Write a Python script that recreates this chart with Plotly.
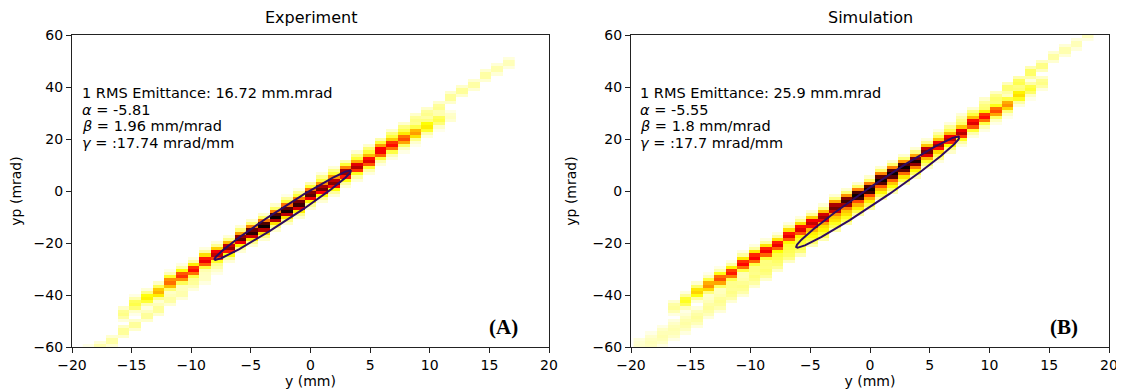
import numpy as np
import plotly.graph_objects as go

# ---------------- data ----------------
# yp (mrad) histogram bins shared by both panels
YP_MIN, YP_MAX, YP_BIN = -60.0, 60.0, 1.2

# Experiment: x bins (mm)
exp_x0, exp_dx, exp_nx = -19.1, 0.978, 37
exp_core_c = [None, None, None, -47.1, -44.3, -41.5, -38.7, -35.9, -33.1, -30.3,
              -27.5, -24.7, -21.9, -19.1, -16.3, -13.5, -10.7, -7.9, -5.1, -2.3,
              0.5, 3.3, 6.1, 8.8, 11.7, 14.5, 17.3, 19.8, 22.5, 24.5,
              26.5, 28.5, None, None, None, None, None]
exp_core_pk = [0, 0, 0, 12, 18, 27, 37, 47, 56, 62,
               66, 72, 80, 88, 95, 100, 100, 98, 93, 88,
               85, 82, 80, 75, 68, 65, 62, 52, 40, 28,
               18, 6, 0, 0, 0, 0, 0]
exp_low_c = [-61.0, -59.0, -56.5, -54.0, -51.0, -47.5, -44.5, -41.5, -38.5, -35.5,
             -32.5, -29.5, None, None, None, None, None, None, None, None,
             None, None, None, None, None, None, None, None, None, None,
             None, None, None, None, None, None, None]
exp_low_pk = [5, 8, 9, 10, 10, 10, 10, 9, 8, 7,
              6, 5, 0, 0, 0, 0, 0, 0, 0, 0,
              0, 0, 0, 0, 0, 0, 0, 0, 0, 0,
              0, 0, 0, 0, 0, 0, 0]
exp_up_c = [None, None, None, None, None, None, None, None, None, None,
            None, None, None, None, None, None, None, -3.6, -0.8, 2.1,
            4.9, 7.8, 10.6, 13.4, 16.3, 19.1, 22.0, 24.8, 27.6, 30.4,
            33.3, 36.1, 39.0, 41.8, 44.6, 47.5, 50.3]
exp_up_pk = [0] * 17 + [5, 6, 7, 7, 8, 8, 9, 10, 10, 10, 10, 10, 10, 10,
                        10, 10, 9, 9, 8, 7, 6]

# Simulation: x bins (mm)
sim_x0, sim_dx, sim_nx = -19.79, 0.962, 40
sim_core_c = [None, None, None, -44.8, -42.1, -39.4, -36.7, -34.0, -31.3, -28.6,
              -25.9, -23.2, -20.6, -17.8, -15.2, -12.5, -9.8, -7.1, -4.4, -1.7,
              1.0, 3.7, 6.4, 9.1, 11.8, 14.5, 17.2, 19.8, 22.5, 25.3,
              27.9, 30.6, 33.3, 36.0, 38.7, 41.4, None, None, None, None]
sim_core_pk = [0, 0, 0, 10, 22, 32, 42, 52, 60, 63,
               64, 65, 66, 67, 68, 72, 78, 85, 92, 100,
               100, 97, 97, 92, 85, 75, 70, 68, 74, 68,
               62, 52, 42, 30, 20, 12, 0, 0, 0, 0]
sim_low_c = [-60.0, -58.0, -56.0, -53.5, -51.0, -48.5, -45.5, -42.5, -39.5, -36.5,
             -33.5, -30.5, -27.0, -24.0, -21.0, -17.5, -14.5, -11.5, -8.5, -5.5,
             -2.5, 0.5, 3.5, 6.5, 9.5, 12.5, 15.5, 18.5, None, None,
             None, None, None, None, None, None, None, None, None, None]
sim_low_pk = [5, 7, 8, 8, 9, 10, 10, 11, 12, 12,
              13, 14, 15, 17, 19, 21, 23, 25, 25, 25,
              25, 24, 22, 20, 18, 14, 10, 6, 0, 0,
              0, 0, 0, 0, 0, 0, 0, 0, 0, 0]
sim_up_c = [None] * 26 + [22.0, 25.0, 28.0, 31.0, 34.0, 37.0, 40.0, 43.0, 46.0, 49.0,
                          52.0, 55.0, 57.5, 60.0]
sim_up_pk = [0] * 26 + [6, 7, 8, 9, 10, 12, 14, 16, 15, 12, 9, 8, 7, 6]

# vertical profiles of a column (relative to peak, in yp bins)
core_shape = [0.05, 0.12, 0.30, 0.75, 1.00, 0.90, 0.45, 0.15, 0.05]
exp_halo_shape = [0.5, 1.0, 1.0, 0.5]
sim_low_shape = [0.35, 0.7, 0.9, 1.0, 0.9, 0.7, 0.35]
sim_up_shape = [0.5, 1.0, 1.0, 0.5]

# Twiss parameters and beam centroids
panels = [
    dict(title="Experiment", letter="(A)", eps=16.72, alpha=-5.81, beta=1.96, gamma=17.74,
         cy=-2.33, cyp=-9.3, emit_txt="16.72", a_txt="-5.81", b_txt="1.96", g_txt=":17.74"),
    dict(title="Simulation", letter="(B)", eps=25.9, alpha=-5.55, beta=1.8, gamma=17.7,
         cy=0.65, cyp=-0.4, emit_txt="25.9", a_txt="-5.55", b_txt="1.8", g_txt=":17.7"),
]

# ---------------- build histograms ----------------
ny = int(round((YP_MAX - YP_MIN) / YP_BIN))
y_edges = YP_MIN + YP_BIN * np.arange(ny + 1)


def add_band(z, col, center, peak, shape):
    if center is None or peak == 0:
        return
    ic = int(np.floor((center - YP_MIN) / YP_BIN))
    half = len(shape) // 2
    for j, s in enumerate(shape):
        i = ic + j - half
        if 0 <= i < ny:
            z[i, col] += peak / 100.0 * s


def build(nx, bands):
    z = np.zeros((ny, nx))
    for centers, peaks, shape in bands:
        for k in range(nx):
            add_band(z, k, centers[k], peaks[k], shape)
    z = np.clip(z, 0, 1)
    zz = z.astype(object)
    zz[z <= 0.02] = None
    return zz.tolist()


z_exp = build(exp_nx, [(exp_core_c, exp_core_pk, core_shape),
                       (exp_low_c, exp_low_pk, exp_halo_shape),
                       (exp_up_c, exp_up_pk, exp_halo_shape)])
z_sim = build(sim_nx, [(sim_core_c, sim_core_pk, core_shape),
                       (sim_low_c, sim_low_pk, sim_low_shape),
                       (sim_up_c, sim_up_pk, sim_up_shape)])
x_exp = (exp_x0 + exp_dx * np.arange(exp_nx + 1)).tolist()
x_sim = (sim_x0 + sim_dx * np.arange(sim_nx + 1)).tolist()

hot_r = [[0.0, "rgb(255,255,255)"], [0.253968, "rgb(255,255,0)"],
         [0.634921, "rgb(255,0,0)"], [1.0, "rgb(11,0,0)"]]

# ---------------- figure ----------------
# the page body has an 8 px margin, so the figure is 8 px smaller each way
W, H = 1116, 384
OFF = 8
fig = go.Figure()

frame_x = [(72, 549), (631, 1109)]
frame_y = (35, 347)
dom_x = [[(a - OFF) / W, (b - OFF) / W] for a, b in frame_x]
dom_y = [1 - (frame_y[1] - OFF) / H, 1 - (frame_y[0] - OFF) / H]

line_yp = [37.7, 31.2, 25.0, 18.5]
text_x = [-19.35, -19.45]

for n, (p, z, xe) in enumerate(zip(panels, [z_exp, z_sim], [x_exp, x_sim])):
    xa = "x" if n == 0 else "x2"
    ya = "y" if n == 0 else "y2"
    fig.add_trace(go.Heatmap(z=z, x=xe, y=y_edges.tolist(), colorscale=hot_r,
                             zmin=0, zmax=1, showscale=False, hoverinfo="skip",
                             xaxis=xa, yaxis=ya))
    t = np.linspace(0, 2 * np.pi, 400)
    ey = p["cy"] + np.sqrt(p["eps"] * p["beta"]) * np.cos(t)
    eyp = p["cyp"] - np.sqrt(p["eps"] / p["beta"]) * (p["alpha"] * np.cos(t) + np.sin(t))
    fig.add_trace(go.Scatter(x=ey, y=eyp, mode="lines", line=dict(color="#2e0b62", width=2),
                             hoverinfo="skip", showlegend=False, xaxis=xa, yaxis=ya))

    lines = [f"1 RMS Emittance: {p['emit_txt']} mm.mrad",
             f"<i>α</i> = {p['a_txt']}",
             f"<i>β</i> = {p['b_txt']} mm/mrad",
             f"<i>γ</i> = {p['g_txt']} mrad/mm"]
    for ln, yv in zip(lines, line_yp):
        fig.add_annotation(x=text_x[n], y=yv, xref=xa, yref=ya, text=ln, showarrow=False,
                           xanchor="left", yanchor="middle", align="left",
                           font=dict(family="DejaVu Sans", size=14.5, color="black"))
    fig.add_annotation(x=16.2, y=-52.3, xref=xa, yref=ya, text=f"<b>{p['letter']}</b>",
                       showarrow=False, xanchor="center", yanchor="middle",
                       font=dict(family="Liberation Serif", size=21, color="black"))
    fig.add_annotation(x=sum(dom_x[n]) / 2, y=1 - (17 - OFF) / H, xref="paper", yref="paper",
                       text=p["title"], showarrow=False, xanchor="center", yanchor="middle",
                       font=dict(family="DejaVu Sans", size=16, color="black"))

axis_common = dict(showline=True, linecolor="#222", linewidth=1.2, mirror=True,
                   ticks="outside", ticklen=5, tickwidth=1, tickcolor="#222",
                   showgrid=False, zeroline=False, automargin=False,
                   tickfont=dict(family="DejaVu Sans", size=14, color="black"))

for n in range(2):
    sx = "" if n == 0 else "2"
    fig.update_layout(**{
        f"xaxis{sx}": dict(axis_common, domain=dom_x[n], range=[-20, 20],
                           tickvals=list(range(-20, 21, 5)), anchor="y" + sx,
                           title=dict(text="y (mm)", standoff=3,
                                      font=dict(family="DejaVu Sans", size=14, color="black"))),
        f"yaxis{sx}": dict(axis_common, domain=dom_y, range=[-60, 60],
                           tickvals=list(range(-60, 61, 20)), anchor="x" + sx,
                           title=dict(text="yp (mrad)", standoff=12,
                                      font=dict(family="DejaVu Sans", size=14, color="black"))),
    })

fig.update_layout(width=W, height=H, margin=dict(l=0, r=0, t=0, b=0),
                  paper_bgcolor="white", plot_bgcolor="white", showlegend=False)

fig.write_html("out.html")
